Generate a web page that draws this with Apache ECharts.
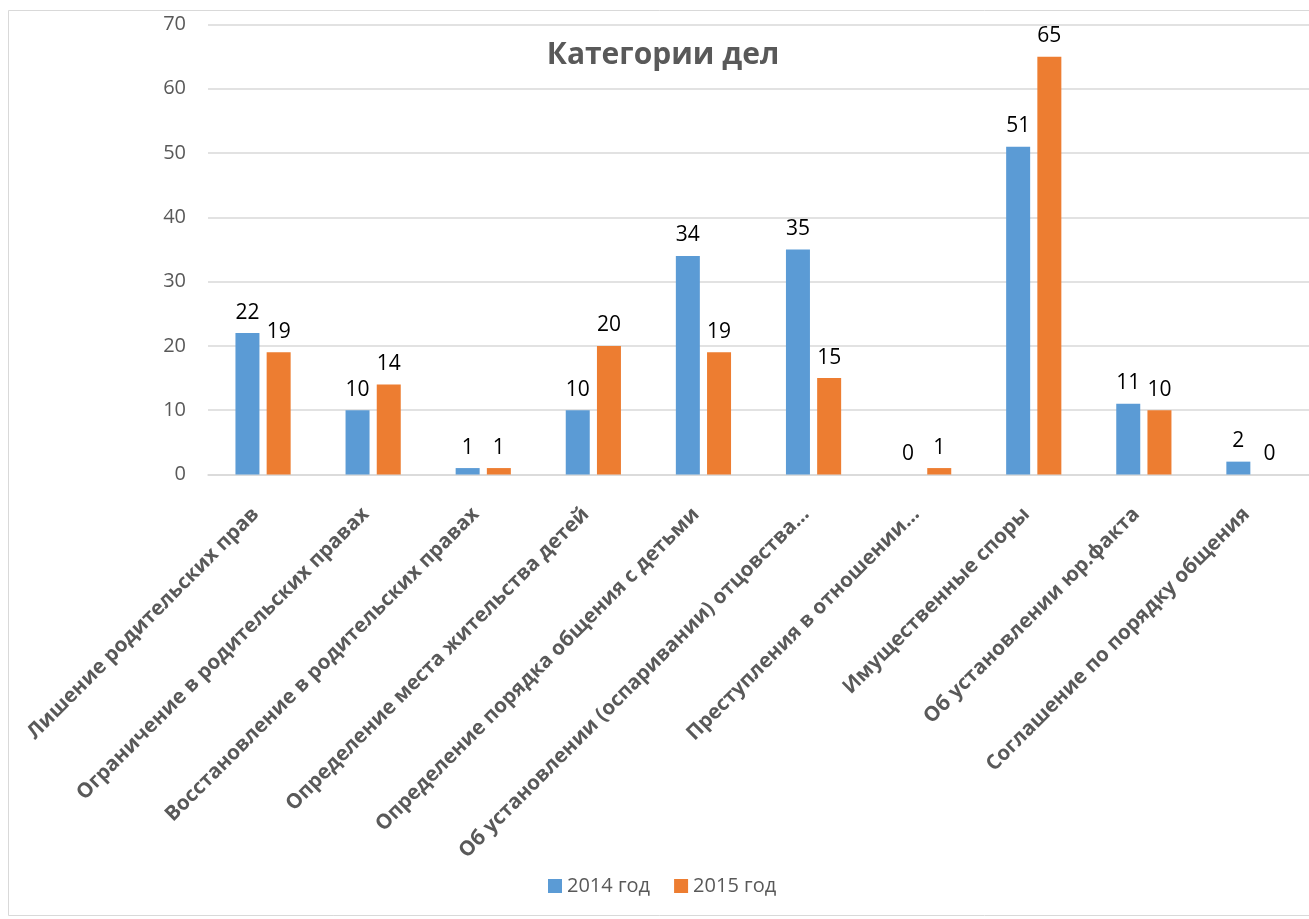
<!DOCTYPE html>
<html>
<head>
<meta charset="utf-8">
<style>
  html, body { margin: 0; padding: 0; background: #fff; }
  #chart { width: 1309px; height: 919px; }
</style>
<script src="https://cdn.jsdelivr.net/npm/echarts@6/dist/echarts.min.js"></script>
</head>
<body>
<div id="chart"></div>
<script>
var categories = [
  "Лишение родительских прав",
  "Ограничение в родительских правах",
  "Восстановление в родительских правах",
  "Определение места жительства детей",
  "Определение порядка общения с детьми",
  "Об установлении (оспаривании) отцовства…",
  "Преступления в отношении…",
  "Имущественные споры",
  "Об установлении юр.факта",
  "Соглашение по порядку общения"
];
var seriesNames = ["2014 год", "2015 год"];
var values2014 = [22, 10, 1, 10, 34, 35, 0, 51, 11, 2];
var values2015 = [19, 14, 1, 20, 19, 15, 1, 65, 10, 0];

var chart = echarts.init(document.getElementById("chart"));
var font = "'Open Sans', sans-serif";

function barSeries(name, data, color) {
  return {
    name: name,
    type: "bar",
    data: data,
    barWidth: 24,
    barGap: "30%",
    itemStyle: { color: color },
    label: {
      show: true,
      position: "top",
      distance: 10,
      color: "#000",
      fontSize: 21,
      fontFamily: font
    }
  };
}

var option = {
  animation: false,
  backgroundColor: "#fff",
  title: {
    text: "Категории дел",
    left: 658,
    top: 35,
    textAlign: "center",
    textStyle: {
      fontFamily: font,
      fontSize: 30,
      fontWeight: "bold",
      color: "#595959"
    }
  },
  legend: {
    bottom: 18,
    left: 543,
    itemWidth: 14,
    itemHeight: 14,
    itemGap: 24,
    icon: "rect",
    textStyle: { fontFamily: font, fontSize: 20, color: "#595959" },
    data: seriesNames
  },
  graphic: [{
    type: "rect",
    shape: { x: 8.5, y: 10.5, width: 1320, height: 905 },
    style: { fill: "none", stroke: "#D9D9D9", lineWidth: 1 },
    silent: true
  }],
  grid: {
    left: 208,
    right: -9,
    top: 24.5,
    bottom: 444.5,
    containLabel: false
  },
  xAxis: {
    type: "category",
    data: categories,
    axisLine: { lineStyle: { color: "#D9D9D9", width: 1.5 } },
    axisTick: { show: false },
    axisLabel: {
      interval: 0,
      rotate: 45,
      margin: 44,
      verticalAlign: "bottom",
      fontFamily: font,
      fontSize: 20.5,
      fontWeight: "bold",
      color: "#595959"
    }
  },
  yAxis: {
    type: "value",
    min: 0,
    max: 70,
    interval: 10,
    axisLine: { show: false },
    axisTick: { show: false },
    splitLine: { lineStyle: { color: "#D9D9D9", width: 1.5 } },
    axisLabel: {
      margin: 22,
      fontFamily: font,
      fontSize: 20,
      color: "#595959"
    }
  },
  series: [
    barSeries(seriesNames[0], values2014, "#5B9BD5"),
    barSeries(seriesNames[1], values2015, "#ED7D31")
  ]
};

chart.setOption(option);
</script>
</body>
</html>
